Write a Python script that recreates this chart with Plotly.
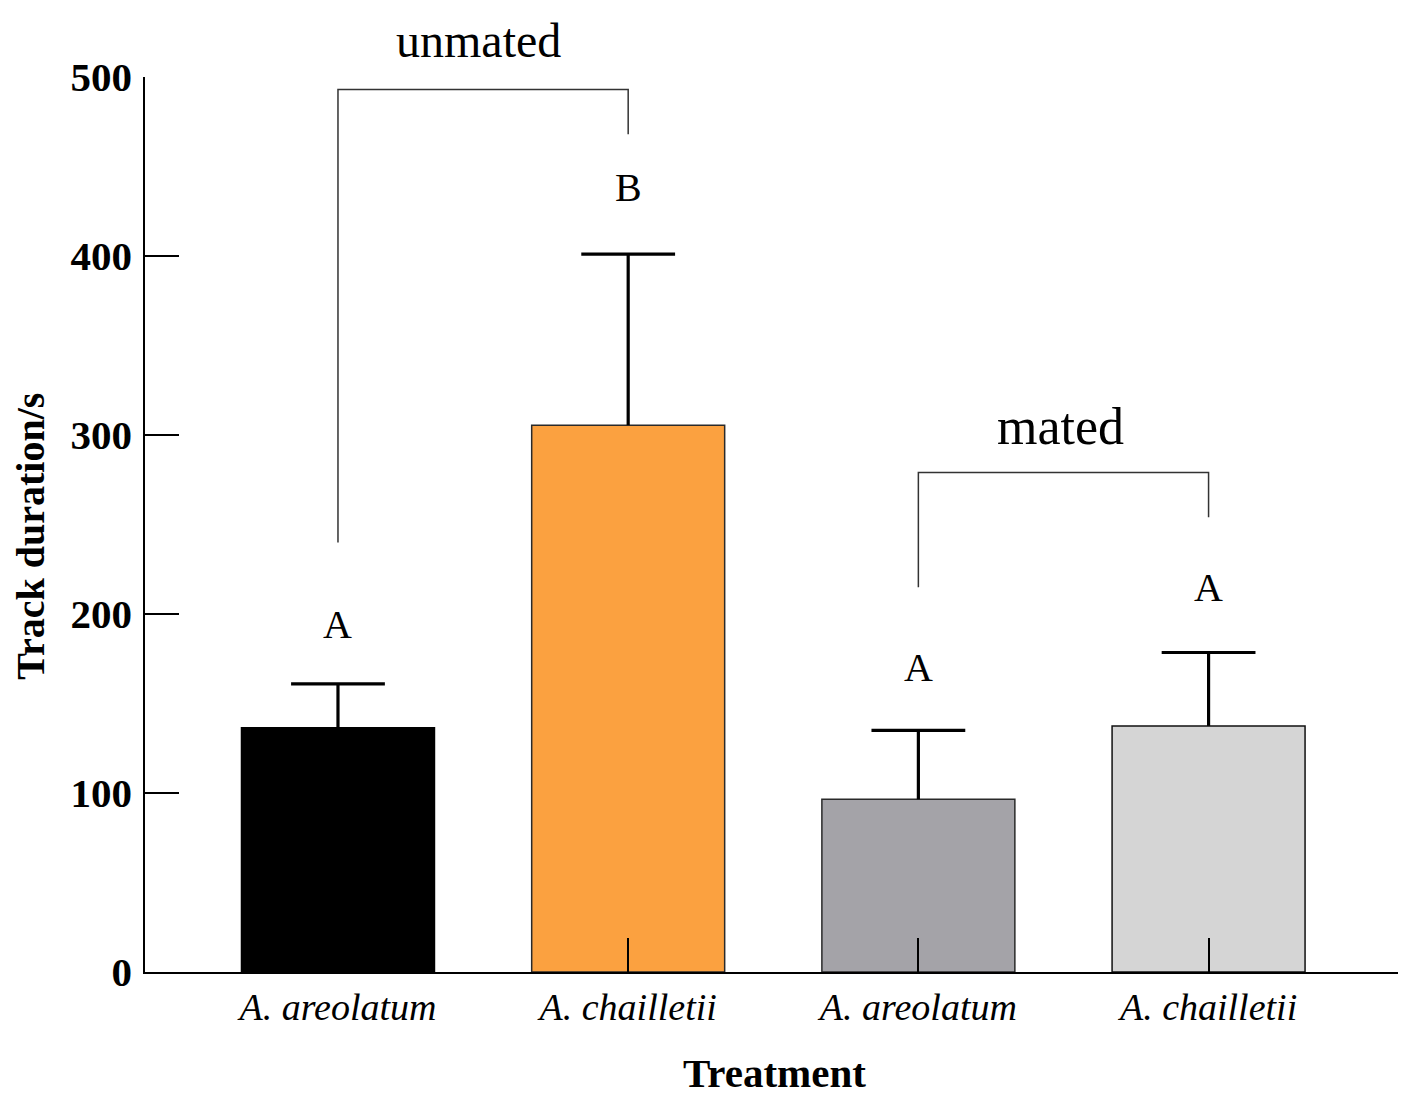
import plotly.graph_objects as go

# --- data ---
treatments = ["A. areolatum", "A. chailletii", "A. areolatum", "A. chailletii"]
mean_duration = [136.5, 305.5, 96.5, 137.5]
se_duration = [24.5, 95.5, 38.5, 41.0]
bar_colors = ["#000000", "#FBA140", "#A4A3A8", "#D5D5D5"]
bar_edges = ["#000000", "#2a2a2a", "#2a2a2a", "#111111"]
group_letters = ["A", "B", "A", "A"]
letter_y = [194, 438, 170, 215]

FONT = "Liberation Serif"
pos = list(range(len(treatments)))
tops = [m + s for m, s in zip(mean_duration, se_duration)]

fig = go.Figure()

fig.add_trace(go.Bar(
    x=pos, y=mean_duration, width=0.665,
    marker=dict(color=bar_colors, line=dict(color=bar_edges, width=1.5)),
    error_y=dict(type="data", symmetric=False, array=se_duration,
                 arrayminus=[0] * len(pos), width=0, thickness=3.2, color="black"),
    showlegend=False, hoverinfo="skip",
))

# caps of the error bars
fig.add_trace(go.Scatter(
    x=pos, y=tops, mode="markers",
    marker=dict(symbol="line-ew", size=67, line=dict(width=3.2, color="black")),
    showlegend=False, hoverinfo="skip",
))

# significance letters
for i, (lab, ly) in enumerate(zip(group_letters, letter_y)):
    fig.add_annotation(x=i, y=ly, text=lab, showarrow=False,
                       font=dict(family=FONT, size=40, color="black"))

# brackets for the two groups
bracket_style = dict(color="#333333", width=1.5)
fig.add_trace(go.Scatter(x=[0, 0, 1, 1], y=[240, 493, 493, 468], mode="lines",
                         line=bracket_style, showlegend=False, hoverinfo="skip"))
fig.add_trace(go.Scatter(x=[2, 2, 3, 3], y=[215, 279, 279, 254], mode="lines",
                         line=bracket_style, showlegend=False, hoverinfo="skip"))
fig.add_annotation(x=0.485, xref="x", y=1.0413, yref="paper", yanchor="middle",
                   text="unmated", showarrow=False,
                   font=dict(family=FONT, size=48, color="black"))
fig.add_annotation(x=2.49, y=305, text="mated", showarrow=False,
                   font=dict(family=FONT, size=52, color="black"))

# axis titles
fig.add_annotation(xref="paper", yref="paper", x=0.5, y=-0.113,
                   xanchor="center", yanchor="middle", text="<b>Treatment</b>",
                   showarrow=False, font=dict(family=FONT, size=41, color="black"))
fig.add_annotation(xref="paper", yref="paper", x=-0.091, y=0.487,
                   xanchor="center", yanchor="middle", text="<b>Track duration/s</b>",
                   textangle=-90, showarrow=False, font=dict(family=FONT, size=40, color="black"))

fig.update_layout(
    width=1406, height=1094,
    margin=dict(l=137, r=11, t=69, b=130),
    plot_bgcolor="white", paper_bgcolor="white",
    font=dict(family=FONT, color="black"),
)
fig.update_xaxes(
    range=[-0.665, 3.67], tickvals=pos,
    ticktext=[f"<i>{t}</i>" for t in treatments],
    tickfont=dict(family=FONT, size=38),
    ticks="inside", ticklen=34, tickwidth=1.5, tickcolor="black",
    showline=True, linecolor="black", linewidth=1.8,
    showgrid=False, zeroline=False, ticklabelstandoff=0,
)
fig.update_yaxes(
    range=[0, 500], tickvals=[0, 100, 200, 300, 400, 500],
    tickfont=dict(family=FONT, size=41, weight="bold"),
    ticks="inside", ticklen=34, tickwidth=1.5, tickcolor="black",
    showline=True, linecolor="black", linewidth=1.8,
    showgrid=False, zeroline=False, ticklabelstandoff=3,
)

fig.write_html("out.html")
